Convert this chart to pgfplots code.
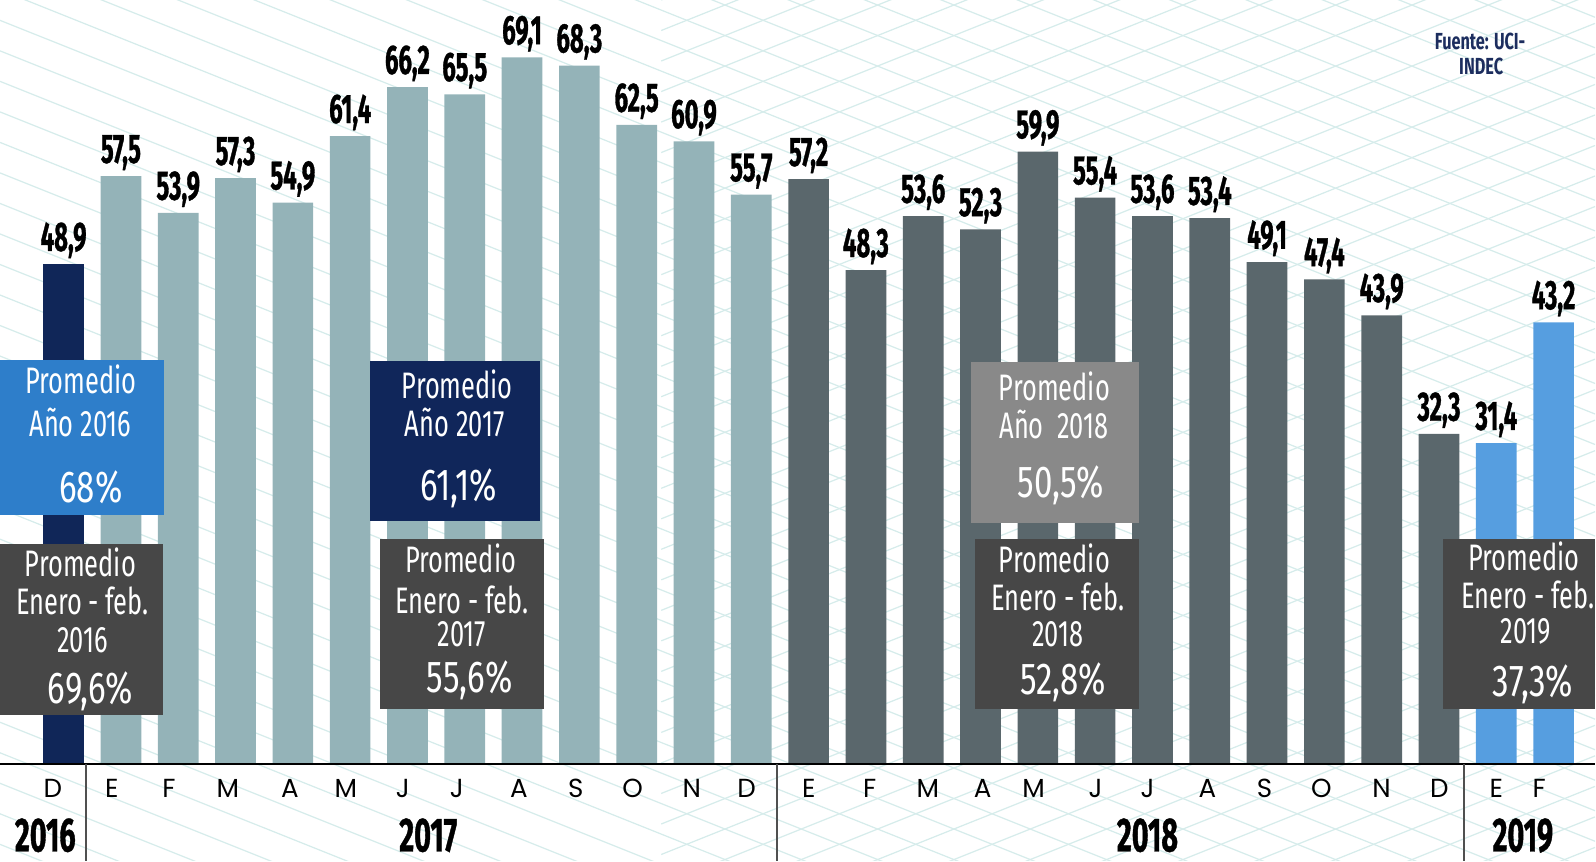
\documentclass[border=0pt]{standalone}
\usepackage{fontspec}
\usepackage{pgfplots}
\pgfplotsset{compat=1.18}
\setmainfont{Fira Sans}
\newfontfamily\boxfam{Fira Sans}[FakeStretch=0.69]
\newfontfamily\pctfam{Fira Sans}[FakeStretch=0.74]
\newfontfamily\valfam{Fira Sans}[FakeStretch=0.58,FakeBold=0.8]
\newfontfamily\yearfam{Fira Sans}[FakeStretch=0.6,FakeBold=0.8]
\newfontfamily\srcfam{Fira Sans}[FakeStretch=0.7]
\newfontfamily\monfam{Poppins}

\definecolor{bar16}{RGB}{16,38,88}
\definecolor{bar17}{RGB}{148,179,184}
\definecolor{bar18}{RGB}{90,103,108}
\definecolor{bar19}{RGB}{86,158,224}
\definecolor{boxblue}{RGB}{46,126,202}
\definecolor{boxnavy}{RGB}{16,38,90}
\definecolor{boxgray}{RGB}{137,137,137}
\definecolor{boxdark}{RGB}{71,71,71}
\definecolor{bgline}{RGB}{214,236,235}
\definecolor{srcclr}{RGB}{28,45,94}
\definecolor{sepclr}{RGB}{80,80,80}

\newcommand{\valfont}{\valfam\bfseries\fontsize{11.5}{12}\selectfont}
\newcommand{\bxfont}{\boxfam\fontsize{10.3}{11}\selectfont}
\newcommand{\pcfont}{\pctfam\fontsize{12.5}{13}\selectfont}
% one line of box text: x, baseline y (px), text
\newcommand{\bl}[3]{\node[anchor=base,inner sep=0pt,text=white,font=\bxfont] at (#1,#2) {#3};}
\newcommand{\pl}[3]{\node[anchor=base,inner sep=0pt,text=white,font=\pcfont] at (#1,#2) {#3};}

\begin{document}
\begin{tikzpicture}
% faint background pattern, px coordinates
\begin{scope}[x=0.01cm,y=-0.01cm,yshift=8.46cm]
  \clip (0,0) rectangle (1568,846);
  \foreach \y in {-700,-670,...,846}
    \draw[bgline,line width=0.35pt] (0,\y) -- (1568,\y+627);
  \foreach \y in {0,30,...,1250}
    \draw[bgline,line width=0.35pt] (650,\y) -- (1568,\y-367);
\end{scope}

\begin{axis}[
  at={(0,0)}, anchor=south west,
  width=15.68cm, height=8.46cm, scale only axis,
  xmin=-1.11, xmax=26.74, ymin=-9.46, ymax=74.72,
  hide axis, clip=false,
  ybar, bar width=0.71, bar shift=0pt,
  point meta=explicit symbolic,
  nodes near coords,
  every node near coord/.append style={font=\valfont, text=black,
      anchor=base, yshift=0.13cm, inner sep=0pt},
]
\addplot[draw=none, fill=bar16] coordinates {(0,48.9) [48,9]};
\addplot[draw=none, fill=bar17] coordinates {
  (1,57.5) [57,5] (2,53.9) [53,9] (3,57.3) [57,3] (4,54.9) [54,9]
  (5,61.4) [61,4] (6,66.2) [66,2] (7,65.5) [65,5] (8,69.1) [69,1]
  (9,68.3) [68,3] (10,62.5) [62,5] (11,60.9) [60,9] (12,55.7) [55,7]};
\addplot[draw=none, fill=bar18] coordinates {
  (13,57.2) [57,2] (14,48.3) [48,3] (15,53.6) [53,6] (16,52.3) [52,3]
  (17,59.9) [59,9] (18,55.4) [55,4] (19,53.6) [53,6] (20,53.4) [53,4]
  (21,49.1) [49,1] (22,47.4) [47,4] (23,43.9) [43,9] (24,32.3) [32,3]};
\addplot[draw=none, fill=bar19] coordinates {(25,31.4) [31,4] (26,43.2) [43,2]};
\end{axis}

\begin{scope}[x=0.01cm,y=-0.01cm,yshift=8.46cm]
  % base line and year separators
  \draw[black,line width=0.5pt] (0,750.9) -- (1568,750.9);
  \foreach \x in {84.5,764,1439.3}
    \draw[sepclr,line width=0.6pt] (\x,751) -- (\x,846);
  % month labels
  \foreach \x/\m in {52/D,110/E,166/F,224/M,285/A,340/M,396/J,449/J,510/A,566/S,
      622/O,680/N,734/D,795/E,855/F,912/M,966/A,1016/M,1077/J,1128/J,1187/A,
      1243/S,1299/O,1358/N,1415/D,1471/E,1513/F}
    \node[anchor=base,inner sep=0pt,font=\monfam\fontsize{7.3}{8}\selectfont] at (\x,784) {\m};
  % year labels
  \foreach \x/\t in {44.5/2016,421/2017,1128/2018,1497/2019}
    \node[anchor=base,inner sep=0pt,font=\yearfam\bfseries\fontsize{13.4}{14}\selectfont] at (\x,837) {\t};

  % boxes
  \fill[boxblue] (0,354.3) rectangle (161,506.6);
  \bl{79.4}{387}{Promedio}
  \bl{79}{429.5}{Año 2016}
  \pl{89.2}{494}{68\%}

  \fill[boxdark] (0,535) rectangle (160,702.4);
  \bl{79}{567}{Promedio}
  \bl{81}{604.5}{Enero - feb.}
  \bl{81}{641}{2016}
  \pl{89}{691.5}{69,6\%}

  \fill[boxnavy] (363.5,354.6) rectangle (530.5,512.5);
  \bl{449.5}{392}{Promedio}
  \bl{447}{429.5}{Año 2017}
  \pl{451}{492.5}{61,1\%}

  \fill[boxdark] (373.3,529.5) rectangle (534.4,697);
  \bl{452.7}{563}{Promedio}
  \bl{454}{603}{Enero - feb.}
  \bl{454}{635.5}{2017}
  \pl{461.7}{681}{55,6\%}

  \fill[boxgray] (954.6,356.3) rectangle (1120,514);
  \bl{1036.5}{393.5}{Promedio}
  \bl{1036}{431}{Año\ \ 2018}
  \pl{1043}{489}{50,5\%}

  \fill[boxdark] (958.8,529.5) rectangle (1120,697);
  \bl{1036.5}{563}{Promedio}
  \bl{1040}{600.5}{Enero - feb.}
  \bl{1040}{635.5}{2018}
  \pl{1045}{683}{52,8\%}

  \fill[boxdark] (1418.6,529.5) rectangle (1568,697);
  \bl{1498}{561}{Promedio}
  \bl{1502}{598.5}{Enero - feb.}
  \bl{1500}{632.5}{2019}
  \pl{1507}{684.5}{37,3\%}

  % source
  \node[anchor=base,inner sep=0pt,text=srcclr,font=\srcfam\bfseries\fontsize{6.5}{7}\selectfont] at (1455,49) {Fuente: UCI-};
  \node[anchor=base,inner sep=0pt,text=srcclr,font=\srcfam\bfseries\fontsize{6.5}{7}\selectfont] at (1456,73.5) {INDEC};
\end{scope}
\pgfresetboundingbox
\path[use as bounding box] (0,0) rectangle (15.68cm,8.46cm);
\end{tikzpicture}
\end{document}
